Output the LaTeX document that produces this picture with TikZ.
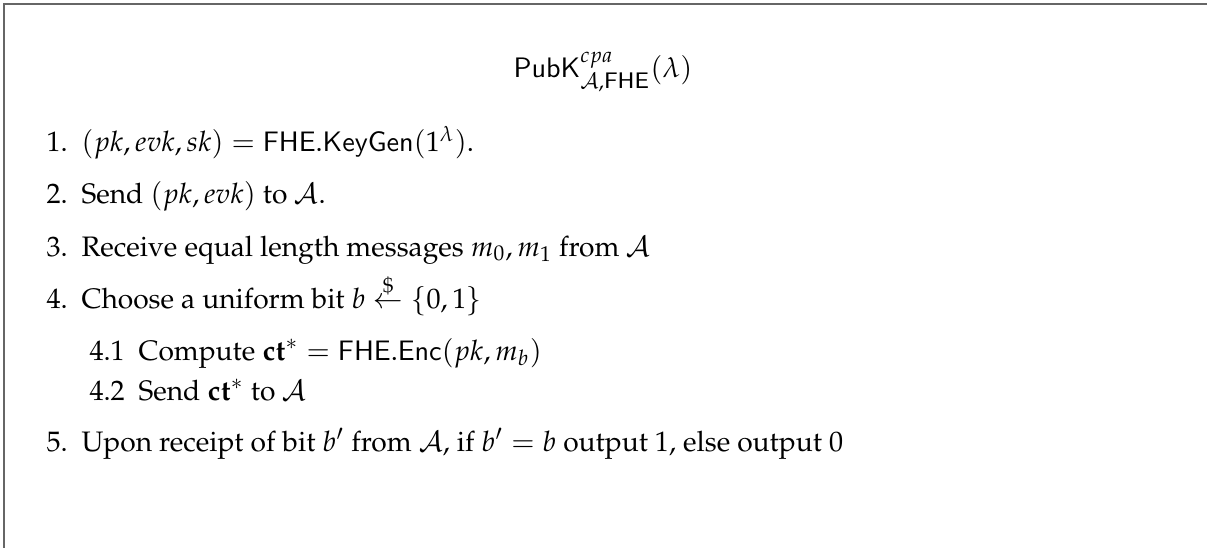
\documentclass[tikz,border=0pt]{standalone}
\usepackage[T1]{fontenc}
\usepackage{amssymb}
\usepackage{mathpazo}
\usepackage{tikz}
\usetikzlibrary{positioning}

\begin{document}
\begin{tikzpicture}[x=0.355pt, y=-0.355pt]
		\tikzstyle{Frame}	= [draw=black!60, line width=0.5pt]
		\tikzstyle{Num}		= [anchor=base west, inner sep=0pt]
		\tikzstyle{Step}	= [anchor=base west, inner sep=0pt]
		\tikzstyle{Head}	= [anchor=base, inner sep=0pt]

		\useasboundingbox (0, 0) rectangle (1207, 548);
		\clip (0, 0) rectangle (1207, 548);
		\draw [Frame] (4, 4) rectangle (1230, 570);

		\node (head) at (603, 78) [Head] {$\mathsf{PubK}^{cpa}_{\mathcal{A},\mathsf{FHE}}(\lambda)$};

		\node (n1) at (46, 152) [Num] {1.};
		\node (n2) at (46, 204) [Num] {2.};
		\node (n3) at (46, 256) [Num] {3.};
		\node (n4) at (46, 309) [Num] {4.};
		\node (n41) at (89, 360) [Num] {4.1};
		\node (n42) at (89, 400) [Num] {4.2};
		\node (n5) at (46, 451) [Num] {5.};

		\node (t1) at (81, 152) [Step] {$(pk, evk, sk) = \mathsf{FHE.KeyGen}(1^\lambda)$.};
		\node (t2) at (81, 204) [Step] {Send $(pk, evk)$ to $\mathcal{A}$.};
		\node (t3) at (81, 256) [Step] {Receive equal length messages $m_0, m_1$ from $\mathcal{A}$};
		\node (t4) at (81, 309) [Step] {Choose a uniform bit $b \stackrel{\$}{\leftarrow} \{0,1\}$};
		\node (t41) at (138, 360) [Step] {Compute $\mathbf{ct}^* = \mathsf{FHE.Enc}(pk, m_b)$};
		\node (t42) at (138, 400) [Step] {Send $\mathbf{ct}^*$ to $\mathcal{A}$};
		\node (t5) at (81, 451) [Step] {Upon receipt of bit $b'$ from $\mathcal{A}$, if $b' = b$ output 1, else output 0};
	\end{tikzpicture}
\end{document}
